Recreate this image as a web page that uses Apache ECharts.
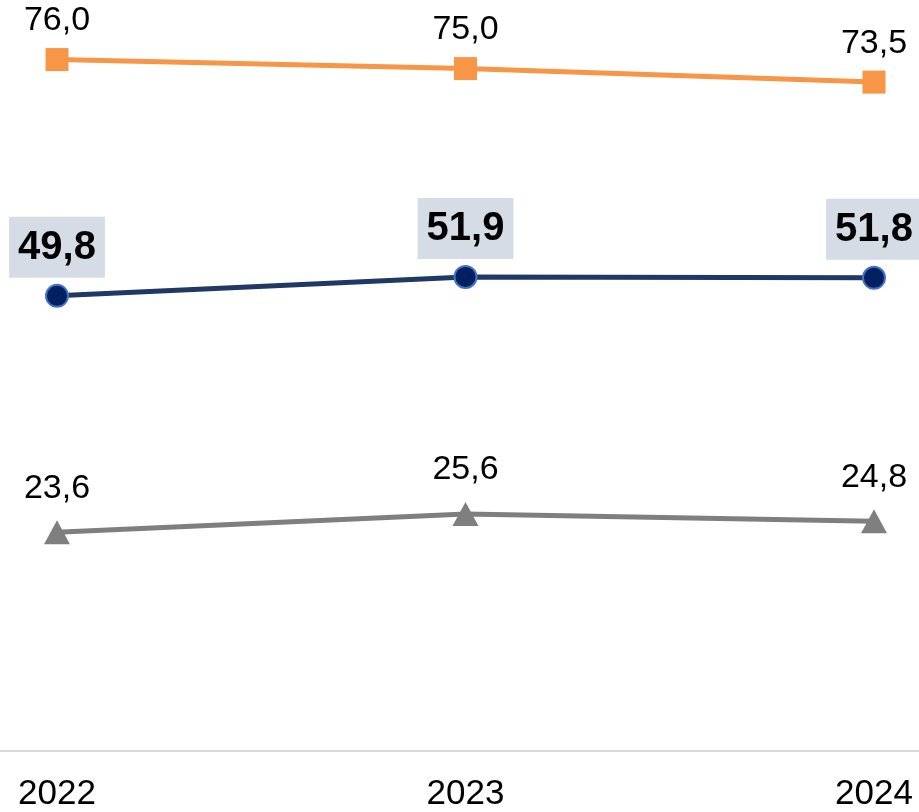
<!DOCTYPE html>
<html><head><meta charset="utf-8">
<script src="https://cdn.jsdelivr.net/npm/echarts@6/dist/echarts.min.js"></script>
<style>html,body{margin:0;padding:0;background:#fff}#c{width:919px;height:812px}</style>
</head><body><div id="c"></div>
<script>
const years = ['2022', '2023', '2024'];
const orangeValues = [76.0, 75.0, 73.5];
const navyValues = [49.8, 51.9, 51.8];
const grayValues = [23.6, 25.6, 24.8];

const fmt = p => p.value.toFixed(1).replace('.', ',');
const FONT = '"Liberation Sans", Arial, sans-serif';

const chart = echarts.init(document.getElementById('c'), null, {renderer: 'canvas'});
chart.setOption({
  animation: false,
  backgroundColor: '#fff',
  grid: {left: 57, right: 45, top: 23.5, bottom: 52.5, containLabel: false},
  xAxis: {
    type: 'category', data: years, boundaryGap: false,
    axisLine: {show: false}, axisTick: {show: false},
    axisLabel: {color: '#000', fontSize: 35, fontFamily: FONT, margin: 32}
  },
  yAxis: {type: 'value', min: 0, max: 80, show: false, splitLine: {show: false}},
  graphic: [{
    type: 'line', shape: {x1: 0, y1: 751, x2: 919, y2: 751},
    style: {stroke: '#d9d9d9', lineWidth: 2}, z: 0
  }],
  series: [
    {
      type: 'line', data: orangeValues, symbol: 'rect', symbolSize: 23,
      lineStyle: {color: '#f79646', width: 5}, itemStyle: {color: '#f79646'},
      label: {show: true, position: 'top', distance: 10, formatter: fmt,
        color: '#000', fontSize: 34, fontFamily: FONT}
    },
    {
      type: 'line', data: navyValues, symbol: 'circle', symbolSize: 22,
      lineStyle: {color: '#203864', width: 5},
      itemStyle: {color: '#002060', borderColor: '#4472c4', borderWidth: 2},
      label: {show: true, position: 'top', distance: 6, formatter: fmt,
        color: '#000', fontSize: 40, fontWeight: 'bold', fontFamily: FONT,
        backgroundColor: '#d6dce5', padding: [11, 9, 10, 9]}
    },
    {
      type: 'line', data: grayValues, symbol: 'triangle', symbolSize: [26, 24],
      lineStyle: {color: '#7f7f7f', width: 5}, itemStyle: {color: '#7f7f7f'},
      label: {show: true, position: 'top', distance: 15, formatter: fmt,
        color: '#000', fontSize: 34, fontFamily: FONT}
    }
  ]
});
</script></body></html>
